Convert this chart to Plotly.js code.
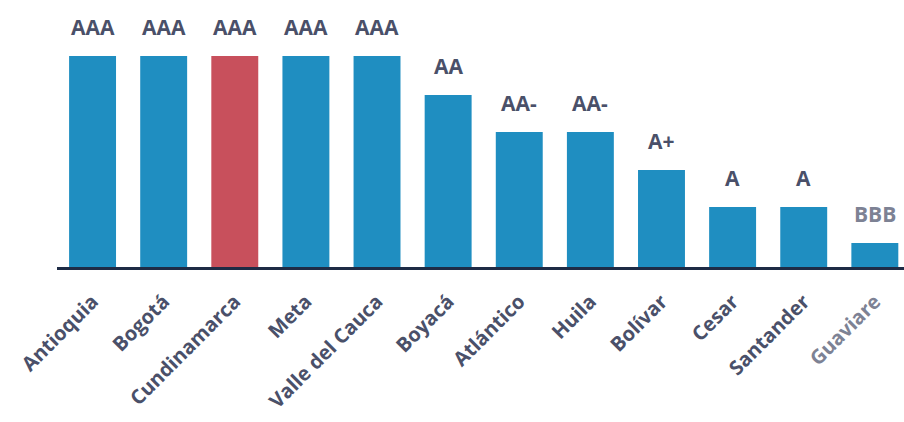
<!DOCTYPE html>
<html>
<head>
<meta charset="utf-8">
<script src="https://cdn.plot.ly/plotly-3.0.1.min.js"></script>
<style>html,body{margin:0;padding:0;background:#fff;}#chart{width:904px;height:422px;}</style>
</head>
<body>
<div id="chart"></div>
<script>
const departments = ["Antioquia","Bogotá","Cundinamarca","Meta","Valle del Cauca","Boyacá","Atlántico","Huila","Bolívar","Cesar","Santander","Guaviare"];
const ratings = ["AAA","AAA","AAA","AAA","AAA","AA","AA-","AA-","A+","A","A","BBB"];
const scores = [100,100,100,100,100,81.5,64,64,46,28.4,28.4,11.4];
const highlighted = "Cundinamarca";
const mutedLabel = "Guaviare";

const barColors = departments.map(d => d === highlighted ? "#c8505c" : "#1f8ec1");
const tickTexts = departments.map(d => d === mutedLabel ? "<span style='color:#7d8294'>" + d + "</span>" : d);

const annotations = departments.map((d, i) => ({
  x: d, y: scores[i], xref: "x", yref: "y",
  text: ratings[i], showarrow: false,
  yanchor: "bottom", yshift: 13,
  font: {family: "Open Sans, sans-serif", size: 21, color: d === mutedLabel ? "#7d8294" : "#4a5069", weight: 700}
}));

const trace = {
  type: "bar", x: departments, y: scores,
  marker: {color: barColors},
  hoverinfo: "skip"
};

const layout = {
  width: 904, height: 422,
  margin: {l: 57, r: 0, t: 20, b: 155},
  paper_bgcolor: "#ffffff", plot_bgcolor: "#ffffff",
  bargap: 0.34,
  showlegend: false,
  xaxis: {
    type: "category", range: [-0.5, 11.41],
    tickmode: "array", tickvals: departments, ticktext: tickTexts,
    showline: true, linecolor: "#1e2b45", linewidth: 3,
    showgrid: false, zeroline: false, ticks: "",
    tickangle: -45, ticklabelstandoff: 12,
    tickfont: {family: "Open Sans, sans-serif", size: 20, color: "#4a5069", weight: 700}
  },
  yaxis: {
    range: [0, 117], visible: false, showgrid: false, zeroline: false
  },
  annotations: annotations
};

Plotly.newPlot("chart", [trace], layout, {displayModeBar: false, staticPlot: true});
</script>
</body>
</html>
